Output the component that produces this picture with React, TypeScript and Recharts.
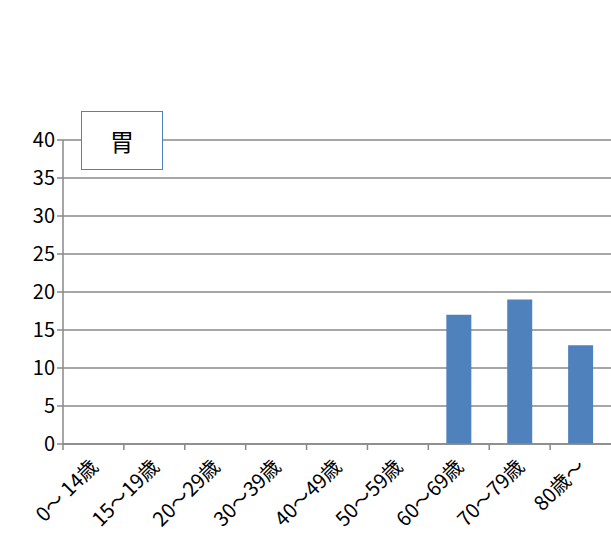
import { BarChart, Bar, XAxis, YAxis, CartesianGrid } from "recharts";

const categories = ["0～ 14歳", "15～19歳", "20～29歳", "30～39歳", "40～49歳", "50～59歳", "60～69歳", "70～79歳", "80歳～"];
const counts = [0, 0, 0, 0, 0, 0, 17, 19, 13];
const yTicks = [0, 5, 10, 15, 20, 25, 30, 35, 40];

const data = categories.map((name, i) => ({ name, value: counts[i] }));

const FONT = "'Noto Sans CJK JP', 'Noto Sans', sans-serif";
const BAND = 548 / categories.length;

function AgeTick(props: any) {
  const { x, y, payload } = props;
  return (
    <g>
      <line x1={x - BAND / 2} y1={y - 8} x2={x - BAND / 2} y2={y - 2} stroke="#888" strokeWidth={1.5} />
      <text
        x={x + 6}
        y={y + 16}
        transform={`rotate(-45, ${x + 6}, ${y + 16})`}
        textAnchor="end"
        fontSize={20}
        fill="#000"
        fontFamily={FONT}
      >
        {payload.value}
      </text>
    </g>
  );
}

export default function App() {
  return (
    <div style={{ position: "absolute", left: 0, top: 0, width: 611, height: 539, background: "#fff", fontFamily: FONT }}>
      <BarChart width={611} height={539} data={data} margin={{ top: 140, right: 0, bottom: 65, left: 0 }} barCategoryGap="20%">
        <CartesianGrid vertical={false} stroke="#888" strokeWidth={1.5} />
        <XAxis dataKey="name" tick={<AgeTick />} tickLine={false} axisLine={{ stroke: "#888", strokeWidth: 1.5 }} interval={0} />
        <YAxis
          domain={[0, 40]}
          ticks={yTicks}
          width={63}
          tick={{ fontSize: 20, fill: "#000", fontFamily: FONT }}
          tickLine={{ stroke: "#888", strokeWidth: 1.5 }}
          tickSize={6}
          axisLine={{ stroke: "#888", strokeWidth: 1.5 }}
        />
        <Bar dataKey="value" fill="#4f81bd" barSize={25} isAnimationActive={false} />
      </BarChart>
      <div
        style={{
          position: "absolute",
          left: 81,
          top: 111,
          width: 80,
          height: 57,
          border: "1.5px solid #4f81bd",
          background: "#fff",
          display: "flex",
          alignItems: "center",
          justifyContent: "center",
          fontSize: 24,
        }}
      >
        胃
      </div>
    </div>
  );
}
